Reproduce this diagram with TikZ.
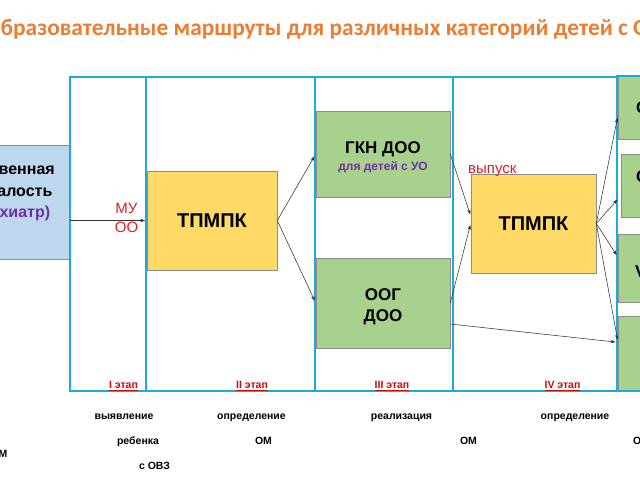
\documentclass[tikz,border=0pt]{standalone}
\usepackage{fontspec}
\setmainfont{Liberation Sans}
\newfontfamily\titlefont{Carlito}
\usetikzlibrary{arrows.meta}
\definecolor{frameblue}{RGB}{30,170,225}
\definecolor{boxgreen}{RGB}{169,209,142}
\definecolor{boxyellow}{RGB}{255,217,102}
\definecolor{boxblue}{RGB}{189,215,238}
\definecolor{boxedge}{RGB}{140,140,140}
\definecolor{titleorange}{RGB}{237,125,49}
\definecolor{txtred}{RGB}{220,30,40}
\definecolor{stagered}{RGB}{200,10,10}
\definecolor{txtpurple}{RGB}{112,48,160}
\tikzset{
  box/.style={draw=boxedge, line width=0.6pt, inner sep=0pt, align=center},
  frameline/.style={draw=frameblue, line width=2.6pt},
  conn/.style={draw=black!80, line width=0.55pt, -{Stealth[length=5pt,width=3.4pt]}, shorten >=1.5pt},
  txt/.style={inner sep=0pt, anchor=base},
  big/.style={font=\fontsize{17}{20}\selectfont\bfseries},
  stage/.style={txt, font=\fontsize{10.5}{12}\selectfont\bfseries, text=stagered},
  note/.style={txt, font=\fontsize{10.5}{12}\selectfont\bfseries},
  redtxt/.style={txt, font=\fontsize{15}{18}\selectfont, text=txtred}
}
\begin{document}
\begin{tikzpicture}[x=1pt,y=-1pt]
\useasboundingbox (0,0) rectangle (640,480);
\clip (0,0) rectangle (640,480);
\fill[white] (0,0) rectangle (640,480);

% title
\node[txt, anchor=base west, font=\titlefont\bfseries\fontsize{23.4}{28}\selectfont, text=titleorange] (title) at (0.5,35)
  {\llap{О}бразовательные маршруты для различных категорий детей с ОВЗ};

% boxes
\node[box, fill=boxblue, minimum width=124, minimum height=114] (lb) at (8,202) {};
\node[txt, font=\fontsize{16}{20}\selectfont\bfseries] (lb1) at (8,174) {Умственная};
\node[txt, font=\fontsize{16}{20}\selectfont\bfseries] (lb2) at (8,196) {отсталость};
\node[txt, font=\fontsize{16}{20}\selectfont\bfseries, text=txtpurple] (lb3) at (8,217.5) {(психиатр)};

\node[box, fill=boxyellow, minimum width=130, minimum height=99, font=\fontsize{20}{24}\selectfont\bfseries] (tp1) at (212,220.5) {ТПМПК};

\node[box, fill=boxgreen, minimum width=134, minimum height=86] (gkn) at (383,154) {};
\node[txt, big] (gkn1) at (383,153) {ГКН ДОО};
\node[txt, font=\fontsize{12}{14}\selectfont\bfseries, text=txtpurple] (gkn2) at (383,170) {для детей с УО};

\node[box, fill=boxgreen, minimum width=134, minimum height=90] (oog) at (383,303) {};
\node[txt, big] (oog1) at (383,300) {ООГ};
\node[txt, big] (oog2) at (383,321) {ДОО};

\node[box, fill=boxyellow, minimum width=125, minimum height=99, font=\fontsize{20}{24}\selectfont\bfseries] (tp2) at (533.5,223.5) {ТПМПК};

\node[box, fill=boxgreen, minimum width=70, minimum height=63, anchor=north west] (r1) at (618,76) {};
\node[box, fill=boxgreen, minimum width=70, minimum height=63, anchor=north west] (r2) at (621,154) {};
\node[box, fill=boxgreen, minimum width=70, minimum height=68, anchor=north west] (r3) at (618,234) {};
\node[box, fill=boxgreen, minimum width=70, minimum height=74, anchor=north west] (r4) at (618,316) {};
\node[txt, big, anchor=base west] (r1t) at (636,113) {С};
\node[txt, big, anchor=base west] (r2t) at (636,182) {С};
\node[txt, big, anchor=base west] (r3t) at (635,277) {V};

% blue frame
\draw[frameline] (70,77) rectangle (617,391);
\draw[frameline] (146,77) -- (146,391);
\draw[frameline] (315,77) -- (315,391);
\draw[frameline] (453,77) -- (453,391);
\draw[frameline] (617,76) rectangle (700,391);

% labels
\node[redtxt] (mu) at (126.5,213.5) {МУ};
\node[redtxt] (oo) at (126.5,232.5) {ОО};
\node[redtxt, anchor=base west] (vyp) at (468,173) {выпуск};

\node[stage] (s1) at (123.5,388.5) {\underline{I этап}};
\node[stage] (s2) at (252,388.5) {\underline{II этап}};
\node[stage] (s3) at (392,388.5) {\underline{III этап}};
\node[stage] (s4) at (562.5,388.5) {\underline{IV этап}};

\node[note] (d1) at (124,419) {выявление};
\node[note] (d2) at (251.5,419) {определение};
\node[note] (d3) at (401.5,419) {реализация};
\node[note] (d4) at (575,419) {определение};
\node[note] (e1) at (138,444.5) {ребенка};
\node[note] (e2) at (263.5,444.5) {ОМ};
\node[note] (e3) at (468.5,444.5) {ОМ};
\node[note, anchor=base west] (e4) at (633,444.5) {О};
\node[note, anchor=base west] (f0) at (-1.5,457) {М};
\node[note] (f1) at (154.5,469.5) {с ОВЗ};

% connectors
\draw[conn] (lb.east |- tp1.west) -- (tp1.west);
\draw[conn, shorten >=2.5pt] (tp1.east) -- (gkn.west);
\draw[conn, shorten >=2.5pt] (tp1.east) -- (oog.west);
\draw[conn] (gkn.east) -- ([yshift=7.5pt]tp2.west);
\draw[conn] (oog.east) -- (tp2.west);
\draw[conn, shorten >=2.5pt] ([yshift=-21pt]oog.east) -- ([yshift=11pt]r4.west);
\draw[conn, shorten >=2.5pt] (tp2.east) -- ([yshift=-7.5pt]r1.west);
\draw[conn, shorten >=5.5pt] (tp2.east) -- ([yshift=-9.5pt]r2.west);
\draw[conn, shorten >=2.5pt] (tp2.east) -- ([yshift=11pt]r3.west);
\draw[conn, shorten >=2.5pt] (tp2.east) -- ([yshift=11pt]r4.west);
\end{tikzpicture}
\end{document}
